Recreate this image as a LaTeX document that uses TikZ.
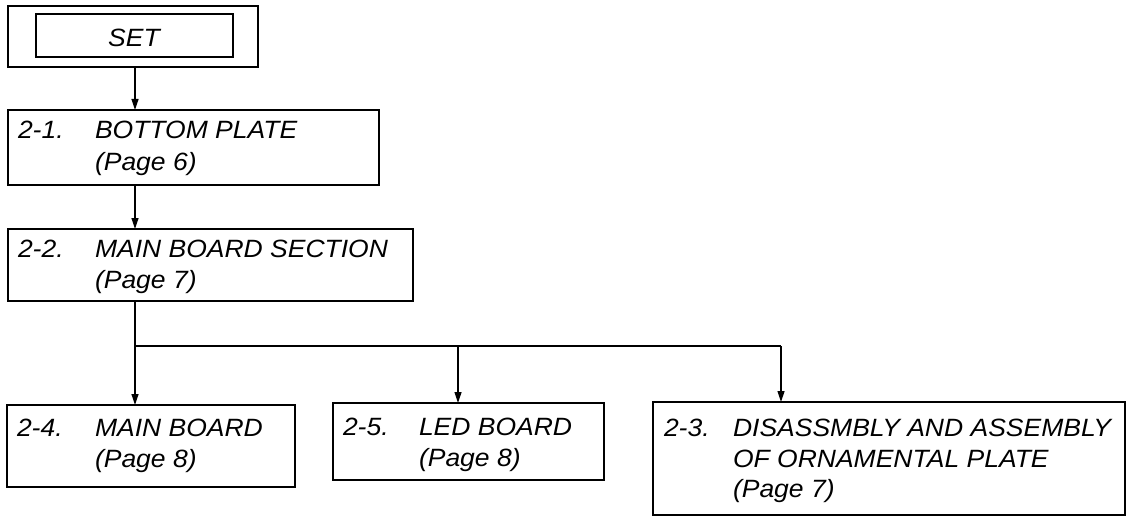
\documentclass[tikz,border=0pt]{standalone}
\usepackage{fontspec}
\setmainfont{Liberation Sans}[FakeStretch=1.06]
\usetikzlibrary{arrows.meta}
\tikzset{
  box/.style={draw=black, line width=1.3pt, inner sep=0pt, outer sep=0pt, rectangle},
  txt/.style={inner sep=0pt, outer sep=0pt, anchor=base west, font=\fontsize{25pt}{31pt}\selectfont\itshape},
  conn/.style={draw=black, line width=1.2pt},
  arr/.style={conn, -{Triangle[length=11pt,width=7pt]}}
}
\begin{document}
\begin{tikzpicture}[x=1pt,y=-1pt]
\useasboundingbox (0,0) rectangle (1126,516);
% SET
\node[box, minimum width=250pt, minimum height=61pt] (setouter) at (133,36.5) {};
\node[box, minimum width=197pt, minimum height=43pt] (setinner) at (134.5,35.5) {};
\node[txt, anchor=base] (tset) at (134,47) {SET};
% boxes
\node[box, minimum width=371pt, minimum height=75pt] (b21) at (193.5,147.5) {};
\node[box, minimum width=405pt, minimum height=72pt] (b22) at (210.5,265) {};
\node[box, minimum width=288pt, minimum height=82pt] (b24) at (151,446) {};
\node[box, minimum width=271pt, minimum height=77pt] (b25) at (468.5,441.5) {};
\node[box, minimum width=472pt, minimum height=113pt] (b23) at (889,458.5) {};
% texts
\node[txt] (t21n) at (18,139) {2-1.};
\node[txt] (t21a) at (95,139) {BOTTOM PLATE};
\node[txt] (t21b) at (95,170) {(Page 6)};
\node[txt] (t22n) at (18,257) {2-2.};
\node[txt] (t22a) at (95,257) {MAIN BOARD SECTION};
\node[txt] (t22b) at (95,288) {(Page 7)};
\node[txt] (t24n) at (17,436) {2-4.};
\node[txt] (t24a) at (95,436) {MAIN BOARD};
\node[txt] (t24b) at (95,467) {(Page 8)};
\node[txt] (t25n) at (343,435) {2-5.};
\node[txt] (t25a) at (419,435) {LED BOARD};
\node[txt] (t25b) at (419,466) {(Page 8)};
\node[txt] (t23n) at (664,436) {2-3.};
\node[txt] (t23a) at (733,436) {DISASSMBLY AND ASSEMBLY};
\node[txt] (t23b) at (733,467) {OF ORNAMENTAL PLATE};
\node[txt] (t23c) at (733,497) {(Page 7)};
% connectors
\coordinate (xa) at (135,0);
\coordinate (jn) at (135,346);
\coordinate (jb) at (458,346);
\coordinate (jc) at (781,346);
\draw[arr] (setouter.south -| xa) -- (b21.north -| xa);
\draw[arr] (b21.south -| xa) -- (b22.north -| xa);
\draw[conn] (b22.south -| xa) -- (jn);
\draw[conn] (jn) -- (jc);
\draw[arr] (jn) -- (b24.north -| jn);
\draw[arr] (jb) -- (b25.north -| jb);
\draw[arr] (jc) -- (b23.north -| jc);
\end{tikzpicture}
\end{document}
